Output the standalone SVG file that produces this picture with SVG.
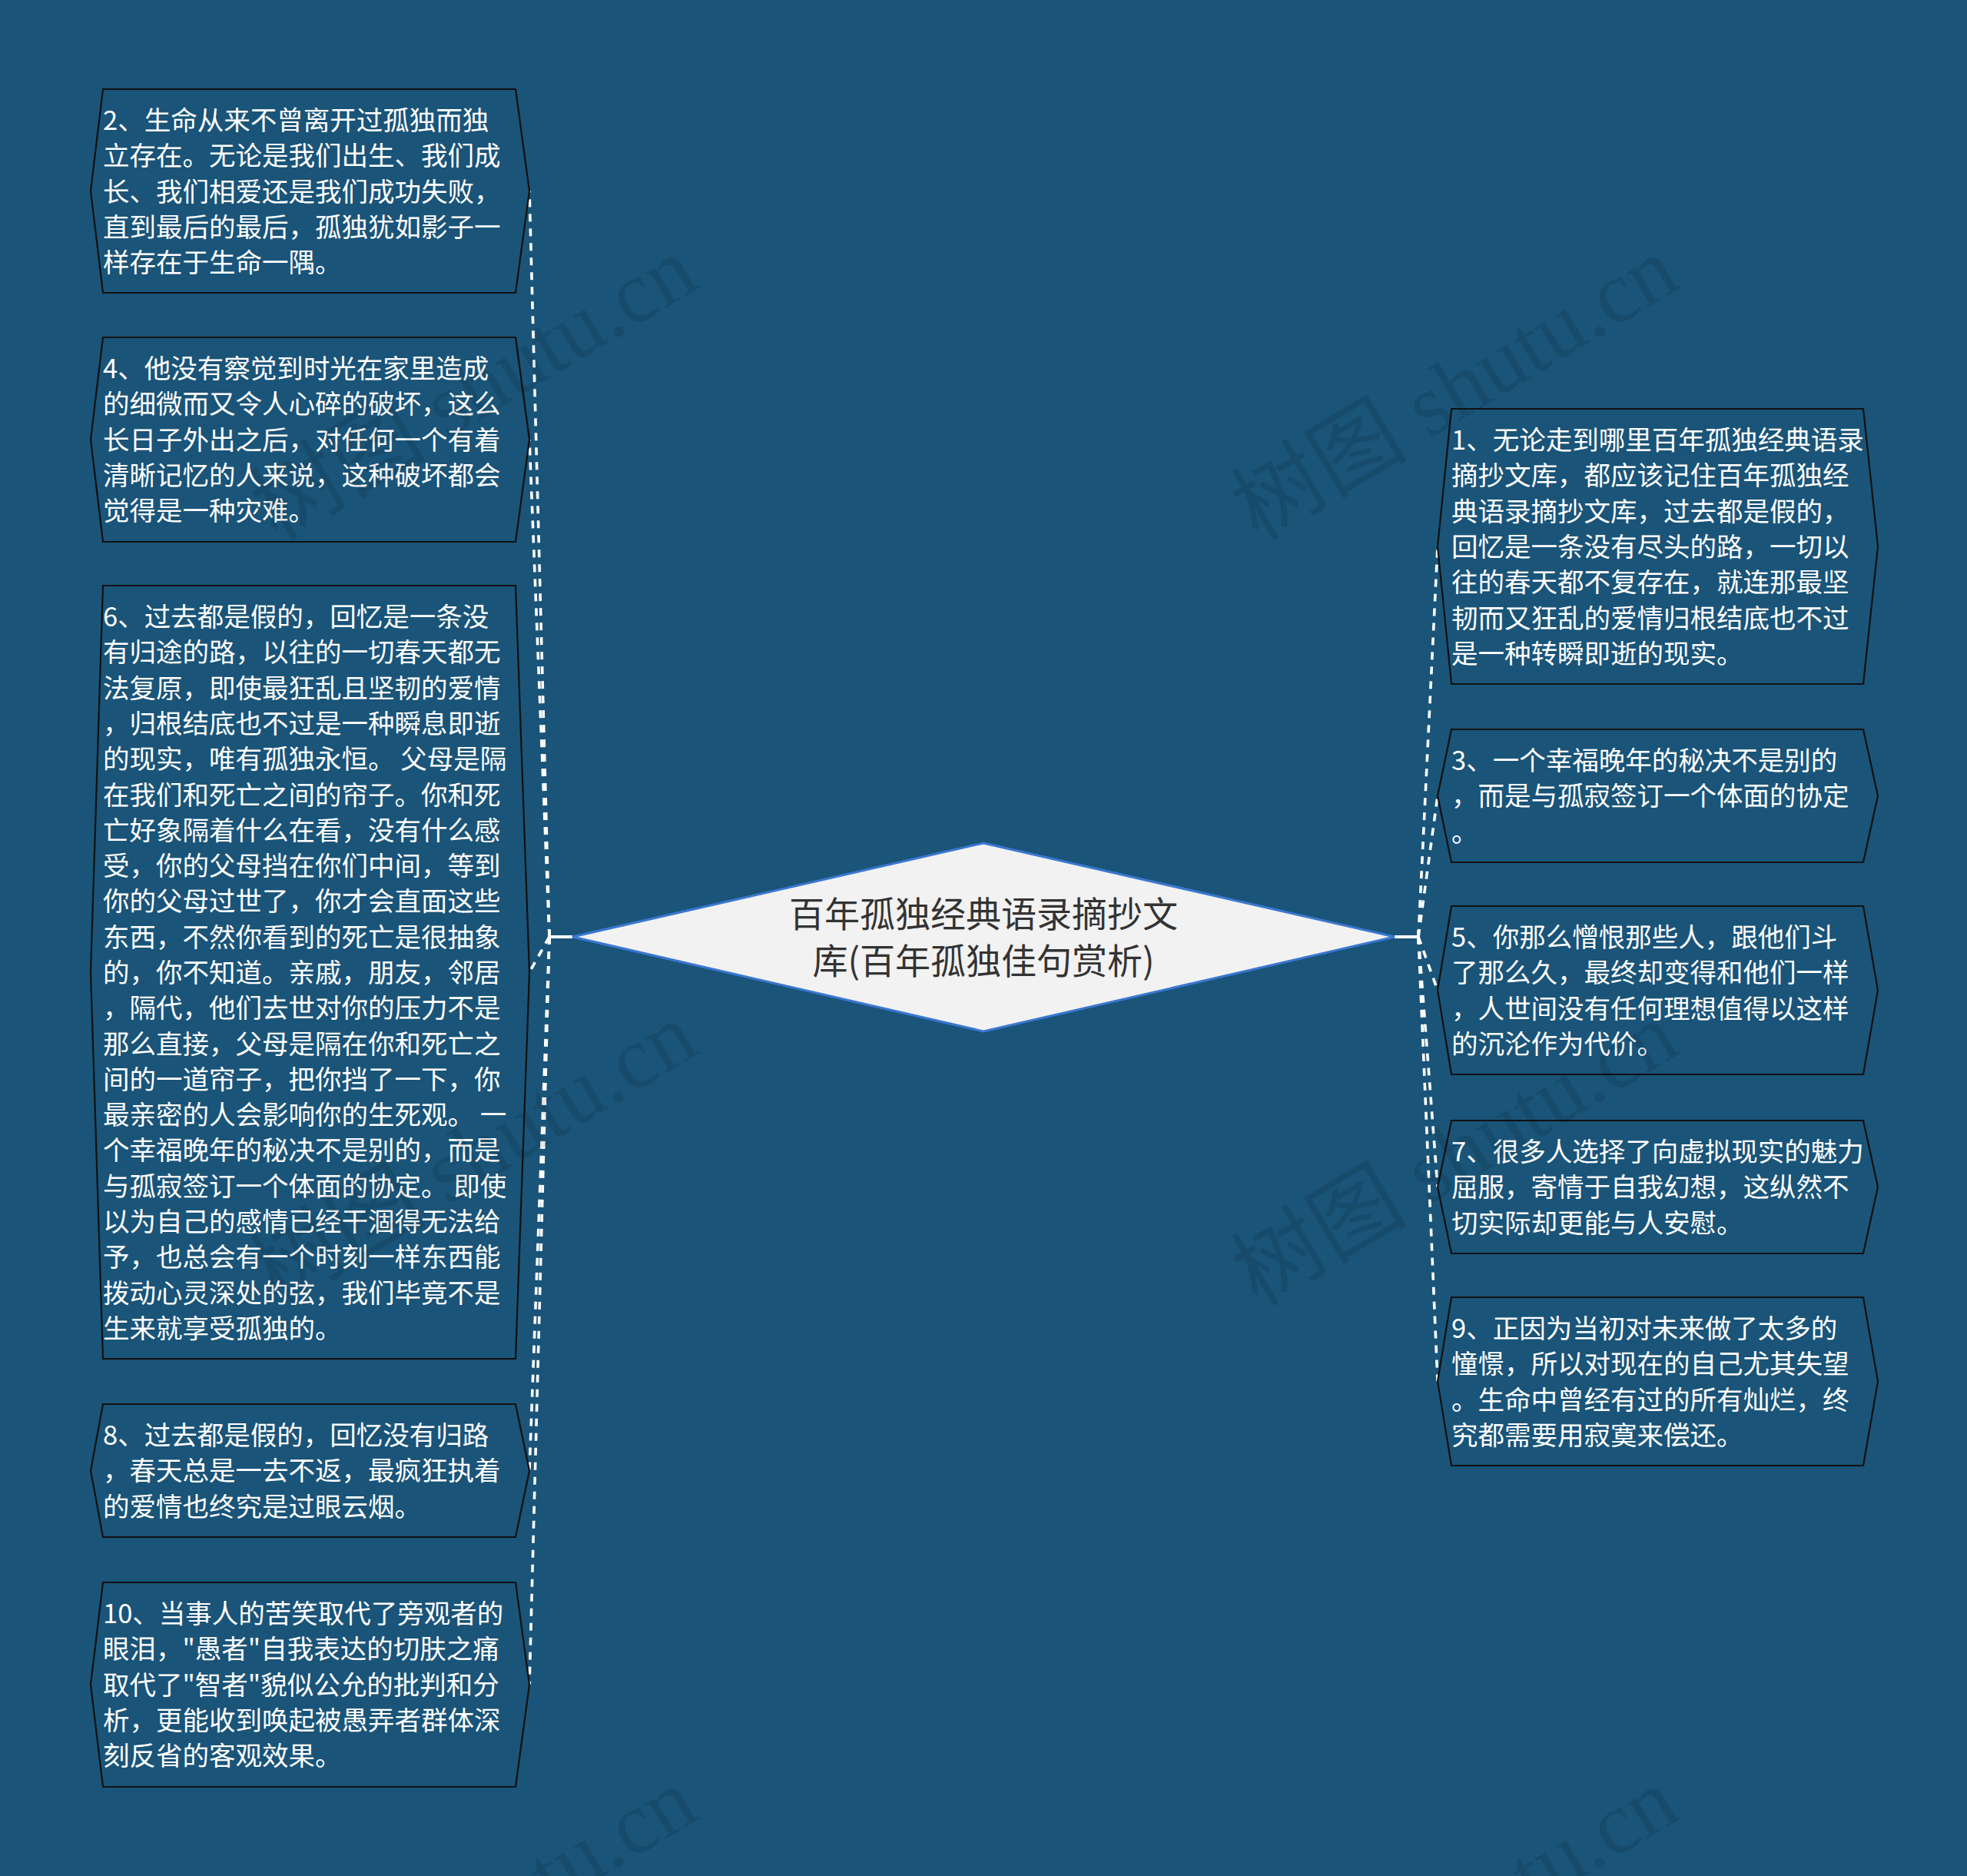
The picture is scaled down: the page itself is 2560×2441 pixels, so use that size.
<svg xmlns="http://www.w3.org/2000/svg" width="2560" height="2441" viewBox="0 0 2560 2441">
<defs>
<style>
.bg{fill:#1a5479;}
.box{fill:#1a5479;stroke:#111;stroke-width:2.2;}
.t{font-family:"Noto Sans CJK SC","Noto Sans",sans-serif;font-size:34.5px;fill:#ffffff;}
.title{font-family:"Noto Sans CJK SC","Noto Sans",sans-serif;font-size:46px;fill:#333333;text-anchor:middle;}
.dash{fill:none;stroke:#ffffff;stroke-width:3.6;stroke-dasharray:10 9;}
.solid{fill:none;stroke:#ffffff;stroke-width:4;}
.wm{font-family:"Liberation Serif","Noto Sans CJK SC",serif;font-size:115px;fill:#000000;fill-opacity:0.1;}
</style>
</defs>
<rect class="bg" x="0" y="0" width="2560" height="2441"/>

<g id="connectors">
<path class="solid" d="M745 1219 L715 1219 M715 1211 L715 1228"/>
<path class="solid" d="M1815 1219 L1846 1219 M1846 1211 L1846 1228"/>
<path class="dash" d="M715 1219 L689 248.5"/>
<path class="dash" d="M715 1219 L689 572"/>
<path class="dash" d="M715 1219 L689 1265"/>
<path class="dash" d="M715 1219 L689 1913.5"/>
<path class="dash" d="M715 1219 L689 2192"/>
<path class="dash" d="M1846 1219 L1871 711"/>
<path class="dash" d="M1846 1219 L1871 1035.5"/>
<path class="dash" d="M1846 1219 L1871 1288.5"/>
<path class="dash" d="M1846 1219 L1871 1544.5"/>
<path class="dash" d="M1846 1219 L1871 1797.5"/>
</g>

<g id="center">
<path d="M745 1219 L1280 1097 L1815 1219 L1280 1342 Z" fill="#f2f2f2" stroke="#3a78d0" stroke-width="3"/>
<text class="title" x="1280" y="1206">百年孤独经典语录摘抄文</text>
<text class="title" x="1280" y="1267">库(百年孤独佳句赏析)</text>
</g>

<g id="node2">
<path class="box" d="M134 116 L671 116 L689 248.5 L671 381 L134 381 L118 248.5 Z"/>
<text class="t" x="134" y="169"><tspan x="134">2、生命从来不曾离开过孤独而独</tspan><tspan x="134" dy="46.3">立存在。无论是我们出生、我们成</tspan><tspan x="134" dy="46.3">长、我们相爱还是我们成功失败，</tspan><tspan x="134" dy="46.3">直到最后的最后，孤独犹如影子一</tspan><tspan x="134" dy="46.3">样存在于生命一隅。</tspan></text>
</g>

<g id="node4">
<path class="box" d="M134 439 L671 439 L689 572 L671 705 L134 705 L118 572 Z"/>
<text class="t" x="134" y="492"><tspan x="134">4、他没有察觉到时光在家里造成</tspan><tspan x="134" dy="46.3">的细微而又令人心碎的破坏，这么</tspan><tspan x="134" dy="46.3">长日子外出之后，对任何一个有着</tspan><tspan x="134" dy="46.3">清晰记忆的人来说，这种破坏都会</tspan><tspan x="134" dy="46.3">觉得是一种灾难。</tspan></text>
</g>

<g id="node6">
<path class="box" d="M134 762 L671 762 L689 1265 L671 1768 L134 1768 L118 1265 Z"/>
<text class="t" x="134" y="815"><tspan x="134">6、过去都是假的，回忆是一条没</tspan><tspan x="134" dy="46.3">有归途的路，以往的一切春天都无</tspan><tspan x="134" dy="46.3">法复原，即使最狂乱且坚韧的爱情</tspan><tspan x="134" dy="46.3">，归根结底也不过是一种瞬息即逝</tspan><tspan x="134" dy="46.3">的现实，唯有孤独永恒。 父母是隔</tspan><tspan x="134" dy="46.3">在我们和死亡之间的帘子。你和死</tspan><tspan x="134" dy="46.3">亡好象隔着什么在看，没有什么感</tspan><tspan x="134" dy="46.3">受，你的父母挡在你们中间，等到</tspan><tspan x="134" dy="46.3">你的父母过世了，你才会直面这些</tspan><tspan x="134" dy="46.3">东西，不然你看到的死亡是很抽象</tspan><tspan x="134" dy="46.3">的，你不知道。亲戚，朋友，邻居</tspan><tspan x="134" dy="46.3">，隔代，他们去世对你的压力不是</tspan><tspan x="134" dy="46.3">那么直接，父母是隔在你和死亡之</tspan><tspan x="134" dy="46.3">间的一道帘子，把你挡了一下，你</tspan><tspan x="134" dy="46.3">最亲密的人会影响你的生死观。 一</tspan><tspan x="134" dy="46.3">个幸福晚年的秘决不是别的，而是</tspan><tspan x="134" dy="46.3">与孤寂签订一个体面的协定。 即使</tspan><tspan x="134" dy="46.3">以为自己的感情已经干涸得无法给</tspan><tspan x="134" dy="46.3">予，也总会有一个时刻一样东西能</tspan><tspan x="134" dy="46.3">拨动心灵深处的弦，我们毕竟不是</tspan><tspan x="134" dy="46.3">生来就享受孤独的。</tspan></text>
</g>

<g id="node8">
<path class="box" d="M134 1827 L671 1827 L689 1913.5 L671 2000 L134 2000 L118 1913.5 Z"/>
<text class="t" x="134" y="1880"><tspan x="134">8、过去都是假的，回忆没有归路</tspan><tspan x="134" dy="46.3">，春天总是一去不返，最疯狂执着</tspan><tspan x="134" dy="46.3">的爱情也终究是过眼云烟。</tspan></text>
</g>

<g id="node10">
<path class="box" d="M134 2059 L671 2059 L689 2192 L671 2325 L134 2325 L118 2192 Z"/>
<text class="t" x="134" y="2112"><tspan x="134">10、当事人的苦笑取代了旁观者的</tspan><tspan x="134" dy="46.3">眼泪，"愚者"自我表达的切肤之痛</tspan><tspan x="134" dy="46.3">取代了"智者"貌似公允的批判和分</tspan><tspan x="134" dy="46.3">析，更能收到唤起被愚弄者群体深</tspan><tspan x="134" dy="46.3">刻反省的客观效果。</tspan></text>
</g>

<g id="node1">
<path class="box" d="M1889 532 L2425 532 L2444 711 L2425 890 L1889 890 L1871 711 Z"/>
<text class="t" x="1889" y="585"><tspan x="1889">1、无论走到哪里百年孤独经典语录</tspan><tspan x="1889" dy="46.3">摘抄文库，都应该记住百年孤独经</tspan><tspan x="1889" dy="46.3">典语录摘抄文库，过去都是假的，</tspan><tspan x="1889" dy="46.3">回忆是一条没有尽头的路，一切以</tspan><tspan x="1889" dy="46.3">往的春天都不复存在，就连那最坚</tspan><tspan x="1889" dy="46.3">韧而又狂乱的爱情归根结底也不过</tspan><tspan x="1889" dy="46.3">是一种转瞬即逝的现实。</tspan></text>
</g>

<g id="node3">
<path class="box" d="M1889 949 L2425 949 L2444 1035.5 L2425 1122 L1889 1122 L1871 1035.5 Z"/>
<text class="t" x="1889" y="1002"><tspan x="1889">3、一个幸福晚年的秘决不是别的</tspan><tspan x="1889" dy="46.3">，而是与孤寂签订一个体面的协定</tspan><tspan x="1889" dy="46.3">。</tspan></text>
</g>

<g id="node5">
<path class="box" d="M1889 1179 L2425 1179 L2444 1288.5 L2425 1398 L1889 1398 L1871 1288.5 Z"/>
<text class="t" x="1889" y="1232"><tspan x="1889">5、你那么憎恨那些人，跟他们斗</tspan><tspan x="1889" dy="46.3">了那么久，最终却变得和他们一样</tspan><tspan x="1889" dy="46.3">，人世间没有任何理想值得以这样</tspan><tspan x="1889" dy="46.3">的沉沦作为代价。</tspan></text>
</g>

<g id="node7">
<path class="box" d="M1889 1458 L2425 1458 L2444 1544.5 L2425 1631 L1889 1631 L1871 1544.5 Z"/>
<text class="t" x="1889" y="1511"><tspan x="1889">7、很多人选择了向虚拟现实的魅力</tspan><tspan x="1889" dy="46.3">屈服，寄情于自我幻想，这纵然不</tspan><tspan x="1889" dy="46.3">切实际却更能与人安慰。</tspan></text>
</g>

<g id="node9">
<path class="box" d="M1889 1688 L2425 1688 L2444 1797.5 L2425 1907 L1889 1907 L1871 1797.5 Z"/>
<text class="t" x="1889" y="1741"><tspan x="1889">9、正因为当初对未来做了太多的</tspan><tspan x="1889" dy="46.3">憧憬，所以对现在的自己尤其失望</tspan><tspan x="1889" dy="46.3">。生命中曾经有过的所有灿烂，终</tspan><tspan x="1889" dy="46.3">究都需要用寂寞来偿还。</tspan></text>
</g>

<g id="watermarks">
<text class="wm" x="360" y="705" transform="rotate(-31 360 705)">树图 shutu.cn</text>
<text class="wm" x="1637" y="705" transform="rotate(-31 1637 705)">树图 shutu.cn</text>
<text class="wm" x="360" y="1701" transform="rotate(-31 360 1701)">树图 shutu.cn</text>
<text class="wm" x="1637" y="1701" transform="rotate(-31 1637 1701)">树图 shutu.cn</text>
<text class="wm" x="360" y="2697" transform="rotate(-31 360 2697)">树图 shutu.cn</text>
<text class="wm" x="1637" y="2697" transform="rotate(-31 1637 2697)">树图 shutu.cn</text>
</g>
</svg>
